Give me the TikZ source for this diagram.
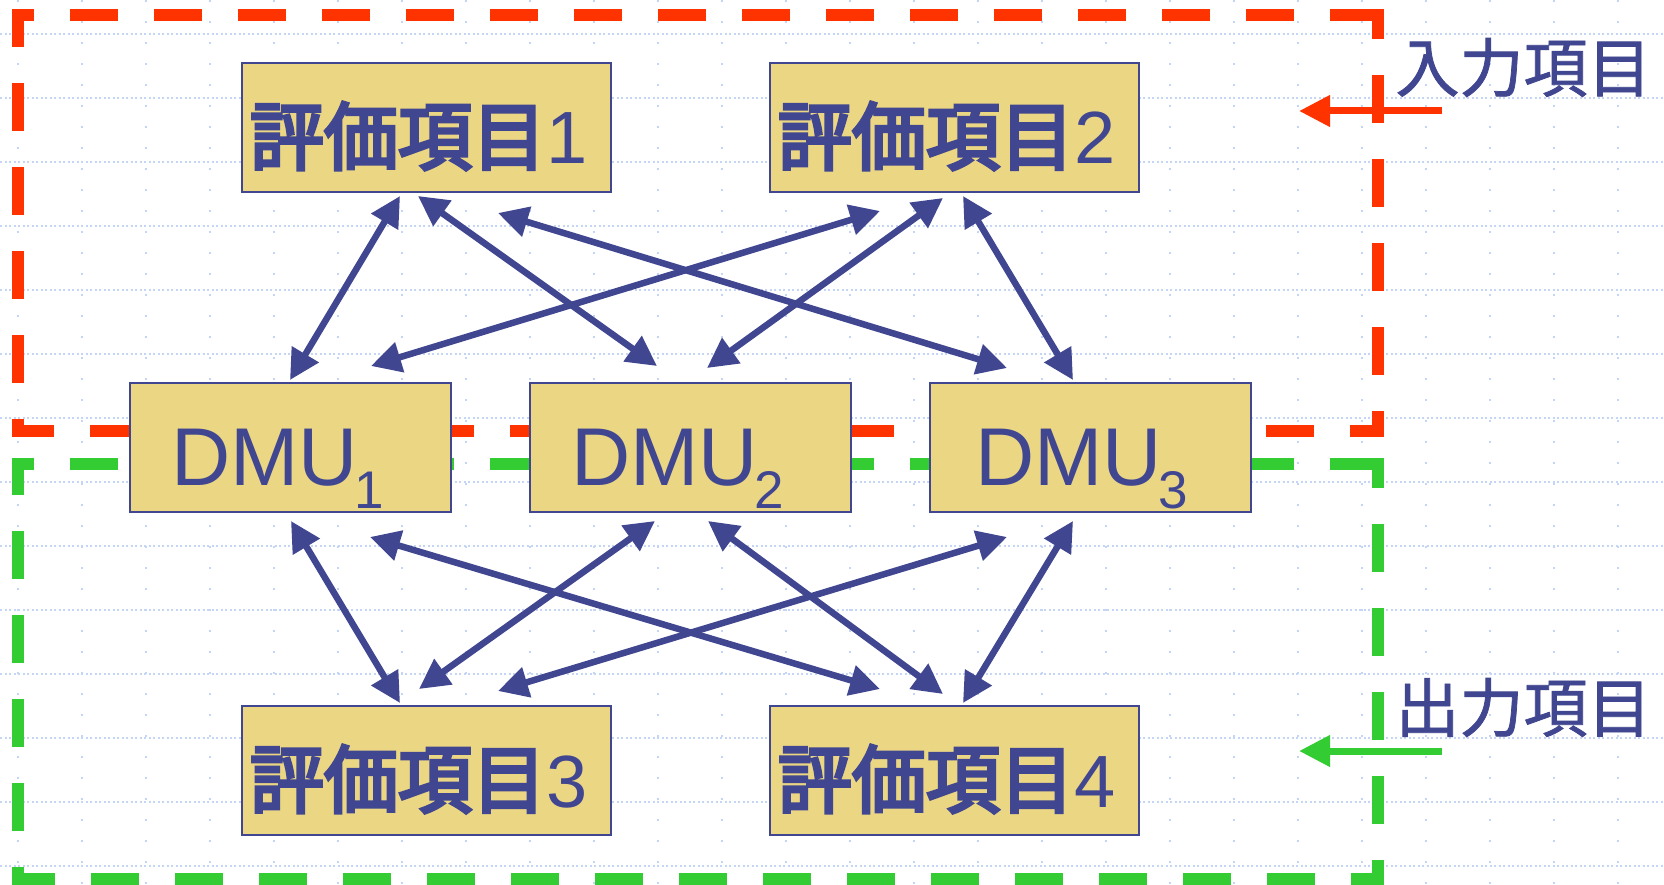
\documentclass[tikz,border=0pt]{standalone}
\usepackage{fontspec}
\setmainfont{Liberation Sans}
\newfontfamily\jp[FakeBold=1.2]{Noto Sans CJK JP}
\newfontfamily\jpb[FakeBold=4.5]{Noto Sans CJK JP}
\usetikzlibrary{arrows.meta,calc}
\definecolor{navy}{HTML}{404690}
\definecolor{boxfill}{HTML}{EBD684}
\definecolor{rline}{HTML}{FF3300}
\definecolor{gline}{HTML}{33CC33}
\definecolor{gridc}{HTML}{C5D5F5}
\tikzset{
  itembox/.style={draw=navy, line width=2pt, fill=boxfill, text=navy,
    minimum width=369pt, minimum height=129pt, inner xsep=8pt, inner ysep=0pt,
    text width=353pt, align=left, text height=73pt, text depth=0pt,
    font=\fontsize{74pt}{80pt}\selectfont},
  dmubox/.style={draw=navy, line width=2pt, fill=boxfill, text=navy,
    minimum width=321pt, minimum height=129pt, inner xsep=41pt, inner ysep=0pt,
    text width=239pt, align=left, text height=75pt, text depth=0pt,
    font=\fontsize{82pt}{88pt}\selectfont},
  sidelab/.style={text=navy, inner sep=0pt, font=\jp\fontsize{64pt}{70pt}\selectfont},
  dbl/.style={draw=navy, line width=6.5pt,
    {Triangle[length=30pt,width=30pt]}-{Triangle[length=30pt,width=30pt]}},
  sidearrow/.style={line width=7pt, -{Triangle[length=31pt,width=30pt]}},
  hgrid/.style={draw=gridc, line width=2pt, dash pattern=on 2pt off 2.5pt},
  vgrid/.style={draw=gridc, line width=2pt, dash pattern=on 2pt off 19pt},
  frame/.style={line width=12pt, line cap=butt, dash pattern=on 48pt off 36pt},
}
\newcommand{\itemtxt}[1]{{\jpb 評価項目}#1}
\newcommand{\dmutxt}[1]{DMU\kern-3pt\raisebox{-23pt}{\fontsize{53pt}{53pt}\selectfont #1}}
\begin{document}
\begin{tikzpicture}[x=1pt,y=-1pt]
\useasboundingbox (0,0) rectangle (1664,885);
\fill[white] (0,0) rectangle (1664,885);
% grid
\foreach \k in {0,...,13} \draw[hgrid] (0,34+64*\k) -- (1664,34+64*\k);
\foreach \k in {0,...,25} \draw[vgrid] (18+64*\k,0) -- (18+64*\k,885);
% red frame
\draw[frame, rline, dash phase=26pt] (12,15) -- (1384,15);
\draw[frame, rline, dash phase=18pt] (1378,9) -- (1378,437);
\draw[frame, rline, dash phase=10pt] (18,9) -- (18,437);
\draw[frame, rline, dash phase=6pt] (12,431) -- (1384,431);
% green frame
\draw[frame, gline, dash phase=26pt] (12,464) -- (1384,464);
\draw[frame, gline, dash phase=18pt] (1378,458) -- (1378,885);
\draw[frame, gline, dash phase=11pt] (18,458) -- (18,885);
\draw[frame, gline, dash phase=5pt] (12,879) -- (1384,879);
% boxes
\node[itembox] (b1) at (426.5,127.5) {\itemtxt{1}};
\node[itembox] (b2) at (954.5,127.5) {\itemtxt{2}};
\node[dmubox] (d1) at (290.5,447.5) {\dmutxt{1}};
\node[dmubox] (d2) at (690.5,447.5) {\dmutxt{2}};
\node[dmubox, inner xsep=45pt, text width=231pt] (d3) at (1090.5,447.5) {\dmutxt{3}};
\node[itembox] (b3) at (426.5,770.5) {\itemtxt{3}};
\node[itembox] (b4) at (954.5,770.5) {\itemtxt{4}};
% arrows top
\draw[dbl] ($(b1.south west)+(159,3)$) -- ($(d1.north west)+(161,-2)$);
\draw[dbl] ($(b1.south west)+(177,3)$) -- ($(d2.north west)+(128,-16)$);
\draw[dbl] ($(b1.south west)+(257,20)$) -- ($(d3.north west)+(78,-14)$);
\draw[dbl] ($(b2.south west)+(111,18)$) -- ($(d1.north west)+(242,-16)$);
\draw[dbl] ($(b2.south west)+(174,5)$) -- ($(d2.north west)+(178,-14)$);
\draw[dbl] ($(b2.south west)+(194,3)$) -- ($(d3.north west)+(144,-2)$);
% arrows bottom
\draw[dbl] ($(d1.south west)+(162,8)$) -- ($(b3.north west)+(159,-2)$);
\draw[dbl] ($(d1.south west)+(241,24)$) -- ($(b4.north west)+(111,-16)$);
\draw[dbl] ($(d2.south west)+(126,8)$) -- ($(b3.north west)+(178,-16)$);
\draw[dbl] ($(d2.south west)+(179,8)$) -- ($(b4.north west)+(174,-11)$);
\draw[dbl] ($(d3.south west)+(78,24)$) -- ($(b3.north west)+(257,-14)$);
\draw[dbl] ($(d3.south west)+(144,8)$) -- ($(b4.north west)+(194,-2)$);
% side labels
\node[sidelab] (inlab) at (1523.5,67.5) {入力項目};
\node[sidelab] (outlab) at (1523.5,707.5) {出力項目};
\coordinate (rs) at (1442,111);
\coordinate (re) at (1299,111);
\draw[sidearrow, rline] (rs) -- (re);
\coordinate (gs) at (1442,751);
\coordinate (ge) at (1299,751);
\draw[sidearrow, gline] (gs) -- (ge);
\end{tikzpicture}
\end{document}
